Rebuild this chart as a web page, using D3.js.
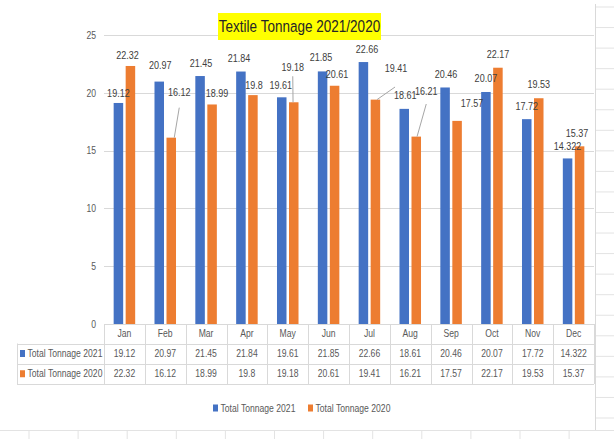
<!DOCTYPE html>
<html>
<head>
<meta charset="utf-8">
<script src="https://cdn.jsdelivr.net/npm/d3@7"></script>
<style>
  html, body { margin: 0; padding: 0; background: #fff; }
  svg { display: block; }
  text { font-family: "Liberation Sans", Arial, sans-serif; }
</style>
</head>
<body>
<svg id="chart" width="614" height="439"></svg>
<script>
// ---- data ----
const months = ["Jan","Feb","Mar","Apr","May","Jun","Jul","Aug","Sep","Oct","Nov","Dec"];
const seriesNames = ["Total Tonnage 2021", "Total Tonnage 2020"];
const tonnage2021 = [19.12, 20.97, 21.45, 21.84, 19.61, 21.85, 22.66, 18.61, 20.46, 20.07, 17.72, 14.322];
const tonnage2020 = [22.32, 16.12, 18.99, 19.8, 19.18, 20.61, 19.41, 16.21, 17.57, 22.17, 19.53, 15.37];
const yTicks = [0, 5, 10, 15, 20, 25];
const title = "Textile Tonnage 2021/2020";

// ---- layout / style (not data) ----
const colors = ["#4472C4", "#ED7D31"];
const NARROW = 0.82; // horizontal condensing of the Calibri-like narrow text
// manual label offsets (label centre relative to bar top-centre), as placed in the original
const labelOffsets2021 = [[0,-10],[1,-16],[1,-13],[-2,-13.5],[-1,-12],[-1.5,-14],[3.5,-13],[1,-14],[1,-13.5],[0,-14],[0,-13],[0,-12.5]];
const labelOffsets2020 = [[-3,-11],[8,-45],[5,-11.5],[1,-10],[-1,-35],[2.5,-12],[20.6,-31.6],[10,-45.6],[15,-18],[0,-13.7],[0,-14],[-2.5,-13]];
// leader lines: [index, startDx, startDy (rel. label centre), endDx (rel. bar centre)]
const leaders2020 = [[1,0,15,3],[4,0,9,-0.7],[6,-1,19,1.6],[7,0,13,0.8]];

const svg = d3.select("#chart");
const plotLeft = 104, plotRight = 594, plotTop = 35, plotBottom = 324;

const x0 = d3.scaleBand().domain(months).range([plotLeft, plotRight]).paddingInner(0.473).paddingOuter(0.2365);
const x1 = d3.scaleBand().domain(seriesNames).range([0, x0.bandwidth()]).paddingInner(0.208);
const y = d3.scaleLinear().domain([0, 25]).range([plotBottom, plotTop]);

const gridColor = "#d9d9d9";

// spreadsheet background lines
const sheet = svg.append("g").attr("stroke", "#e3e3e3").attr("stroke-width", 1);
d3.range(0, 21).forEach(k => {
  const yy = 7 + 20.55 * k;
  if (yy < 430) sheet.append("line").attr("x1", 596).attr("x2", 614).attr("y1", yy).attr("y2", yy);
});
sheet.append("line").attr("x1", 0).attr("x2", 614).attr("y1", 430.5).attr("y2", 430.5);
d3.range(0, 13).forEach(k => {
  const xx = 29 + 49.1 * k;
  sheet.append("line").attr("x1", xx).attr("x2", xx).attr("y1", 430).attr("y2", 439);
});
// chart frame edge
svg.append("line").attr("x1", 595.5).attr("x2", 595.5).attr("y1", 4).attr("y2", 430).attr("stroke", "#d9d9d9");

// gridlines
svg.append("g").selectAll("line").data(yTicks.filter(t => t > 0)).join("line")
  .attr("x1", plotLeft).attr("x2", plotRight)
  .attr("y1", d => Math.round(y(d)) + 0.5).attr("y2", d => Math.round(y(d)) + 0.5)
  .attr("stroke", gridColor).attr("stroke-width", 1);

// y axis labels
const yAxis = d3.axisLeft(y).tickValues(yTicks).tickSize(0).tickPadding(0);
const gy = svg.append("g").attr("transform", `translate(${plotLeft - 8},0)`).call(yAxis);
gy.select(".domain").remove();
gy.selectAll("text").attr("font-size", 10.5).attr("fill", "#595959")
  .attr("font-family", '"Liberation Sans", Arial, sans-serif');

// bars
const seriesData = [tonnage2021, tonnage2020];
seriesData.forEach((vals, s) => {
  svg.append("g").selectAll("rect").data(vals).join("rect")
    .attr("x", (d, i) => x0(months[i]) + x1(seriesNames[s]))
    .attr("y", d => y(d))
    .attr("width", x1.bandwidth())
    .attr("height", d => y(0) - y(d))
    .attr("fill", colors[s]);
});

// leader lines
const barCx = (s, i) => x0(months[i]) + x1(seriesNames[s]) + x1.bandwidth() / 2;
svg.append("g").selectAll("line").data(leaders2020).join("line")
  .attr("x1", d => barCx(1, d[0]) + labelOffsets2020[d[0]][0] + d[1])
  .attr("y1", d => y(tonnage2020[d[0]]) + labelOffsets2020[d[0]][1] + d[2])
  .attr("x2", d => barCx(1, d[0]) + d[3])
  .attr("y2", d => y(tonnage2020[d[0]]))
  .attr("stroke", "#a6a6a6").attr("stroke-width", 1);

// data labels
const offs = [labelOffsets2021, labelOffsets2020];
seriesData.forEach((vals, s) => {
  svg.append("g").selectAll("text").data(vals).join("text")
    .attr("x", (d, i) => barCx(s, i) + offs[s][i][0])
    .attr("y", (d, i) => y(d) + offs[s][i][1])
    .attr("dy", "0.35em")
    .attr("text-anchor", "middle")
    .attr("font-size", 11).attr("fill", "#404040")
    .text(d => d);
});

// title
const tg = svg.append("g");
tg.append("rect").attr("x", 218).attr("y", 13).attr("width", 163).attr("height", 27).attr("fill", "#FFFF00");
tg.append("text").attr("x", 299.5).attr("y", 32.5).attr("text-anchor", "middle")
  .attr("font-size", 16.5).attr("fill", "#262626").text(title);

// data table
const tableLeft = 17, rowTops = [324, 343.5, 363.5, 384];
const tbl = svg.append("g").attr("stroke", gridColor).attr("stroke-width", 1);
rowTops.forEach((t, r) => {
  tbl.append("line").attr("x1", r === 0 ? plotLeft : tableLeft).attr("x2", plotRight)
    .attr("y1", Math.round(t) + 0.5).attr("y2", Math.round(t) + 0.5);
});
tbl.append("line").attr("x1", tableLeft + 0.5).attr("x2", tableLeft + 0.5).attr("y1", rowTops[1]).attr("y2", rowTops[3]);
const colEdges = months.map((m, i) => plotLeft + x0.step() * i).concat([plotRight]);
tbl.selectAll("line.col").data(colEdges).join("line").attr("class", "col")
  .attr("x1", d => Math.round(d) + 0.5).attr("x2", d => Math.round(d) + 0.5)
  .attr("y1", rowTops[0]).attr("y2", rowTops[3]);

const cellCx = m => x0(m) + x0.bandwidth() / 2;
const rowCy = r => (rowTops[r] + rowTops[r + 1]) / 2;
svg.append("g").selectAll("text").data(months).join("text")
  .attr("x", d => cellCx(d)).attr("y", rowCy(0)).attr("dy", "0.35em")
  .attr("text-anchor", "middle").attr("font-size", 10.5).attr("fill", "#595959").text(d => d);
seriesData.forEach((vals, s) => {
  const g = svg.append("g");
  g.selectAll("text").data(vals).join("text")
    .attr("x", (d, i) => cellCx(months[i])).attr("y", rowCy(s + 1)).attr("dy", "0.35em")
    .attr("text-anchor", "middle").attr("font-size", 10.5).attr("fill", "#595959").text(d => d);
  g.append("rect").attr("x", 20).attr("y", rowCy(s + 1) - 3.5).attr("width", 5).attr("height", 7).attr("fill", colors[s]);
  g.append("text").attr("x", 27.5).attr("y", rowCy(s + 1)).attr("dy", "0.35em")
    .attr("font-size", 10.5).attr("fill", "#595959").text(seriesNames[s]);
});

// legend
const legend = svg.append("g");
const legendX = [213, 308];
seriesNames.forEach((name, s) => {
  legend.append("rect").attr("x", legendX[s]).attr("y", 404.5).attr("width", 5).attr("height", 7).attr("fill", colors[s]);
  legend.append("text").attr("x", legendX[s] + 7.5).attr("y", 408).attr("dy", "0.35em")
    .attr("font-size", 10.5).attr("fill", "#595959").text(name);
});

// condense every text horizontally around its anchor x (narrow Calibri look)
svg.selectAll("text").each(function() {
  const t = d3.select(this);
  const xx = +t.attr("x") || 0;
  t.attr("transform", `translate(${xx},0) scale(${NARROW},1) translate(${-xx},0)`);
});
</script>
</body>
</html>
